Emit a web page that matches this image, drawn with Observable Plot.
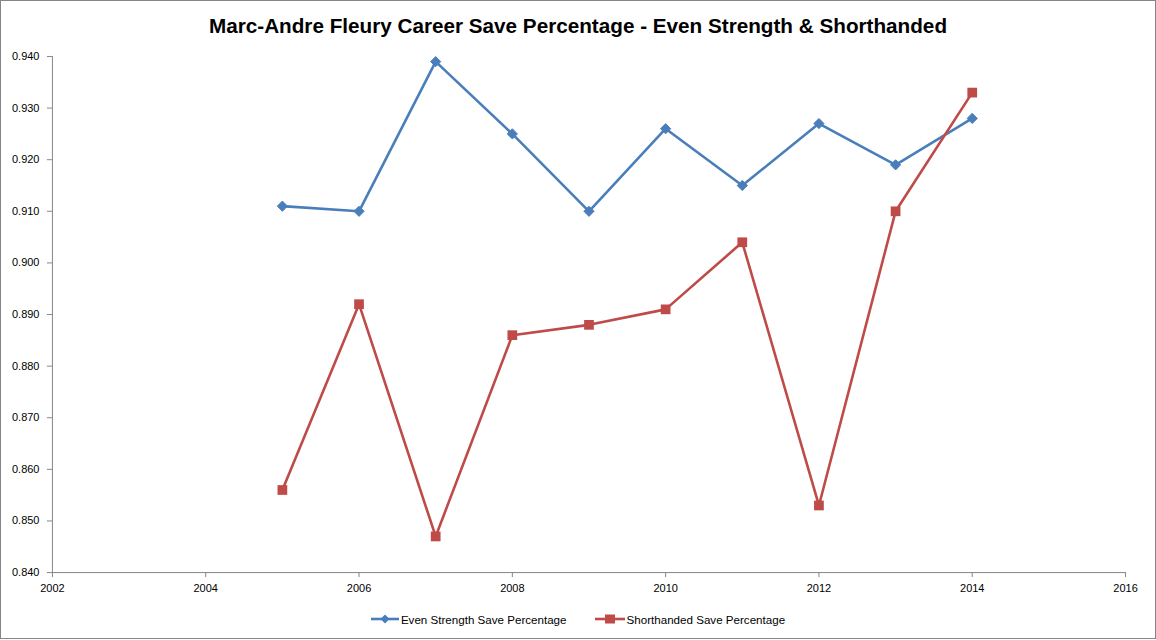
<!DOCTYPE html>
<html>
<head>
<meta charset="utf-8">
<script src="https://cdn.jsdelivr.net/npm/d3@7"></script>
<script src="https://cdn.jsdelivr.net/npm/@observablehq/plot@0.6"></script>
<style>
  html, body { margin: 0; padding: 0; background: white; }
  #chart { position: relative; width: 1156px; height: 639px; box-sizing: border-box; border: 1px solid #868686; overflow: hidden; background: white; font-family: "Liberation Sans", Arial, sans-serif; }
  #title { position: absolute; left: 0; right: 0; top: 13px; text-align: center; font-size: 20.7px; line-height: 24px; font-weight: bold; color: black; font-family: "Liberation Sans", Arial, sans-serif; }
  #plot { position: absolute; left: 0; top: 41px; }
  #legend { position: absolute; left: 0; right: 0; top: 607px; height: 22px; display: flex; justify-content: center; align-items: center; font-size: 11.6px; color: black; }
  .item { display: flex; align-items: center; margin: 0 14px; }
  .item svg { margin-right: 2px; }
</style>
</head>
<body>
<div id="chart">
  <div id="title">Marc-Andre Fleury Career Save Percentage - Even Strength &amp; Shorthanded</div>
  <div id="plot"></div>
  <div id="legend"></div>
</div>
<script>
const years = [2005, 2006, 2007, 2008, 2009, 2010, 2011, 2012, 2013, 2014];
const evenStrength = [0.911, 0.910, 0.939, 0.925, 0.910, 0.926, 0.915, 0.927, 0.919, 0.928];
const shorthanded = [0.856, 0.892, 0.847, 0.886, 0.888, 0.891, 0.904, 0.853, 0.910, 0.933];
const seriesNames = ["Even Strength Save Percentage", "Shorthanded Save Percentage"];
const xTicks = [2002, 2004, 2006, 2008, 2010, 2012, 2014, 2016];
const yTicks = [0.84, 0.85, 0.86, 0.87, 0.88, 0.89, 0.90, 0.91, 0.92, 0.93, 0.94];

const blue = "#4A7EBB";
const red = "#BE4B48";
const axisGray = "#868686";

const esData = years.map((y, i) => ({year: y, value: evenStrength[i]}));
const shData = years.map((y, i) => ({year: y, value: shorthanded[i]}));

const plot = Plot.plot({
  width: 1156,
  height: 561,
  marginLeft: 51,
  marginRight: 30,
  marginTop: 14,
  marginBottom: 30,
  style: {fontFamily: "Liberation Sans, Arial, sans-serif", fontSize: "11px", background: "white", color: "black"},
  x: {domain: [2002, 2016], ticks: xTicks, tickFormat: "d", label: null},
  y: {domain: [0.84, 0.94], ticks: yTicks, tickFormat: ".3f", label: null},
  marks: [
    Plot.axisX({ticks: xTicks, tickFormat: "d", tickSize: 5, tickPadding: 7, stroke: axisGray, fill: "black", label: null}),
    Plot.axisY({ticks: yTicks, tickFormat: ".3f", tickSize: 5, tickPadding: 8, stroke: axisGray, fill: "black", label: null}),
    Plot.ruleX([2002], {stroke: axisGray}),
    Plot.ruleY([0.84], {stroke: axisGray}),
    Plot.line(esData, {x: "year", y: "value", stroke: blue, strokeWidth: 2.6}),
    Plot.line(shData, {x: "year", y: "value", stroke: red, strokeWidth: 2.6}),
    Plot.dot(esData, {x: "year", y: "value", symbol: d3.symbolDiamond2, r: 4.6, fill: blue, stroke: blue, strokeWidth: 1}),
    Plot.dot(shData, {x: "year", y: "value", symbol: "square", r: 5.5, fill: red, stroke: "none"})
  ]
});
document.getElementById("plot").appendChild(plot);

const legend = document.getElementById("legend");
const swatches = [
  `<svg width="28" height="12"><line x1="0" y1="6" x2="28" y2="6" stroke="${blue}" stroke-width="2.6"/><path d="M14,1.5L18.5,6L14,10.5L9.5,6Z" fill="${blue}"/></svg>`,
  `<svg width="30" height="12"><line x1="0" y1="6" x2="30" y2="6" stroke="${red}" stroke-width="2.6"/><rect x="10" y="1.5" width="10" height="9" fill="${red}"/></svg>`
];
seriesNames.forEach((name, i) => {
  const d = document.createElement("div");
  d.className = "item";
  d.innerHTML = swatches[i] + `<span>${name}</span>`;
  legend.appendChild(d);
});
</script>
</body>
</html>
